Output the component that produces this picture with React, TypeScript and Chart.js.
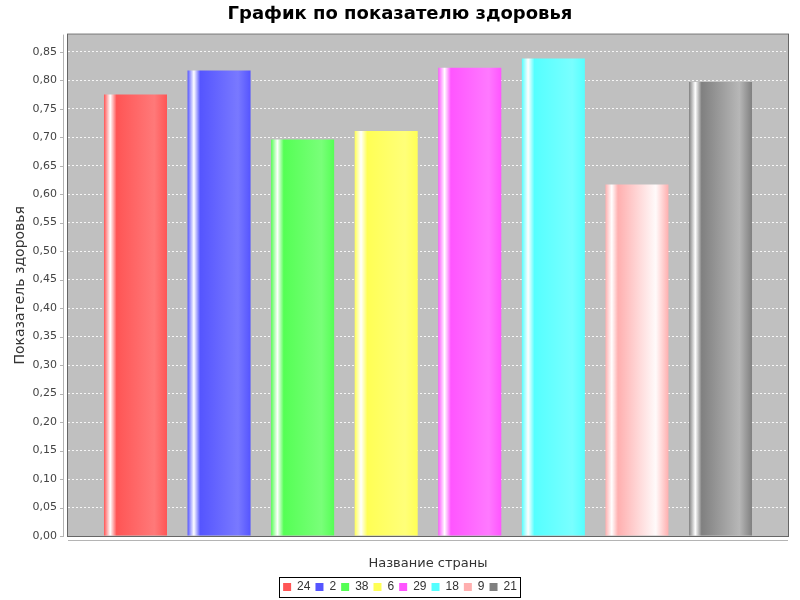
import React, { useEffect, useRef } from "react";
import { Chart, registerables } from "chart.js";

Chart.register(...registerables);

const chartTitle = "График по показателю здоровья";
const xAxisTitle = "Название страны";
const yAxisTitle = "Показатель здоровья";
const categories = [""];
const seriesNames = ["24", "2", "38", "6", "29", "18", "9", "21"];
const seriesValues = [0.775, 0.817, 0.696, 0.711, 0.822, 0.838, 0.617, 0.797];
const seriesColors = ["#FF5555", "#5555FF", "#55FF55", "#FFFF55", "#FF55FF", "#55FFFF", "#FFAFAF", "#808080"];
const yTickValues = [0, 0.05, 0.1, 0.15, 0.2, 0.25, 0.3, 0.35, 0.4, 0.45, 0.5, 0.55, 0.6, 0.65, 0.7, 0.75, 0.8, 0.85];
const yMax = 0.88;

function brighter(hex: string): string {
  const n = parseInt(hex.slice(1), 16);
  const ch = [(n >> 16) & 255, (n >> 8) & 255, n & 255];
  const out = ch.map((c) => {
    if (c === 0) return 3;
    return Math.min(255, Math.round(c / 0.7));
  });
  return `rgb(${out[0]},${out[1]},${out[2]})`;
}

const FONT = "'DejaVu Sans', sans-serif";
const LEGEND_FONT = "'Liberation Sans', Arial, sans-serif";

const jfreePlugin = {
  id: "jfree",
  beforeDraw(chart: any) {
    const { ctx, chartArea: a } = chart;
    ctx.save();
    ctx.fillStyle = "#ffffff";
    ctx.fillRect(0, 0, chart.width, chart.height);
    ctx.fillStyle = "#C0C0C0";
    ctx.fillRect(a.left, a.top, a.right - a.left, a.bottom - a.top);
    ctx.restore();
  },
  beforeDatasetsDraw(chart: any) {
    const { ctx } = chart;
    chart.data.datasets.forEach((ds: any, i: number) => {
      const meta = chart.getDatasetMeta(i);
      const base = seriesColors[i];
      const light = brighter(base);
      meta.data.forEach((el: any) => {
        const x0 = el.x - el.width / 2;
        const x1 = el.x + el.width / 2;
        const g = ctx.createLinearGradient(x0, 0, x1, 0);
        g.addColorStop(0, base);
        g.addColorStop(0.1, "#ffffff");
        g.addColorStop(0.2, base);
        g.addColorStop(0.8, light);
        g.addColorStop(1, base);
        el.options.backgroundColor = g;
      });
    });
  },
  afterDraw(chart: any) {
    const { ctx, chartArea: a } = chart;
    const y = chart.scales.y;
    ctx.save();
    ctx.strokeStyle = "#666666";
    ctx.lineWidth = 1;
    ctx.strokeRect(a.left - 0.5, a.top - 0.5, a.right - a.left + 1, a.bottom - a.top + 1);
    ctx.strokeStyle = "#B4B4B4";
    ctx.beginPath();
    ctx.moveTo(a.left - 4.5, a.top);
    ctx.lineTo(a.left - 4.5, a.bottom);
    yTickValues.forEach((v) => {
      const py = Math.round(y.getPixelForValue(v)) + 0.5;
      ctx.moveTo(a.left - 8, py);
      ctx.lineTo(a.left - 4, py);
    });
    ctx.moveTo(a.left, a.bottom + 4.5);
    ctx.lineTo(a.right, a.bottom + 4.5);
    ctx.stroke();
    const lg = chart.legend;
    if (lg && lg.legendHitBoxes && lg.legendHitBoxes.length) {
      const boxes = lg.legendHitBoxes;
      let l = Infinity, r = -Infinity, t = Infinity, b = -Infinity;
      boxes.forEach((h: any) => {
        l = Math.min(l, h.left);
        r = Math.max(r, h.left + h.width);
        t = Math.min(t, h.top);
        b = Math.max(b, h.top + h.height);
      });
      const cy = (t + b) / 2;
      ctx.strokeStyle = "#000000";
      ctx.strokeRect(Math.round(l - 4) + 0.5, Math.round(cy - 10) + 0.5, Math.round(r - l + 7), 20);
    }
    ctx.restore();
  },
};

export default function App() {
  const ref = useRef<HTMLCanvasElement>(null);
  useEffect(() => {
    if (!ref.current) return;
    const chart = new Chart(ref.current, {
      type: "bar",
      data: {
        labels: categories,
        datasets: seriesNames.map((name, i) => ({
          label: name,
          data: [seriesValues[i]],
          backgroundColor: seriesColors[i],
          borderWidth: 0,
          categoryPercentage: 0.9286,
          barPercentage: 0.754,
          yAxisID: "y",
        })),
      },
      options: {
        responsive: false,
        animation: false,
        devicePixelRatio: 1,
        layout: { padding: { left: 0, right: 0, top: 0, bottom: -3 } },
        plugins: {
          title: {
            display: true,
            text: chartTitle,
            color: "#000000",
            font: { family: FONT, size: 18, weight: "bold" },
            padding: { top: 4, bottom: 9 },
          },
          legend: {
            display: true,
            position: "bottom",
            labels: {
              color: "#333333",
              font: { family: LEGEND_FONT, size: 12 },
              boxWidth: 8,
              boxHeight: 8,
              padding: 5,
              generateLabels: (ch: any) =>
                ch.data.datasets.map((ds: any, i: number) => ({
                  text: ds.label,
                  fillStyle: seriesColors[i],
                  strokeStyle: seriesColors[i],
                  lineWidth: 0,
                  hidden: false,
                  datasetIndex: i,
                  fontColor: "#333333",
                })),
            },
          },
          tooltip: { enabled: false },
        },
        scales: {
          x: {
            grid: { display: false },
            border: { display: false },
            ticks: { display: false },
            title: {
              display: true,
              text: xAxisTitle,
              color: "#333333",
              font: { family: FONT, size: 13 },
              padding: { top: 0, bottom: 5 },
            },
            afterFit: (s: any) => {
              s.height = 40;
            },
          },
          y: {
            min: 0,
            max: yMax,
            afterBuildTicks: (s: any) => {
              s.ticks = yTickValues.map((v) => ({ value: v }));
            },
            grid: {
              color: "rgba(255,255,255,0.85)",
              lineWidth: 1,
              drawTicks: false,
            },
            border: { display: false, dash: [2, 2] },
            ticks: {
              color: "#444444",
              font: { family: FONT, size: 11 },
              padding: 11,
              callback: (v: any) => Number(v).toFixed(2).replace(".", ","),
            },
            title: {
              display: true,
              text: yAxisTitle,
              color: "#333333",
              font: { family: FONT, size: 14 },
              padding: { top: 12, bottom: 0 },
            },
            afterFit: (s: any) => {
              s.width = 68;
            },
          },
          pad: {
            type: "linear",
            position: "right",
            display: true,
            grid: { display: false },
            border: { display: false },
            ticks: { display: false },
            afterFit: (s: any) => {
              s.width = 12;
            },
          },
        },
      },
      plugins: [jfreePlugin],
    });
    return () => chart.destroy();
  }, []);
  return (
    <div style={{ position: "fixed", left: 0, top: 0, width: 800, height: 600 }}>
      <canvas ref={ref} width={800} height={600} />
    </div>
  );
}
